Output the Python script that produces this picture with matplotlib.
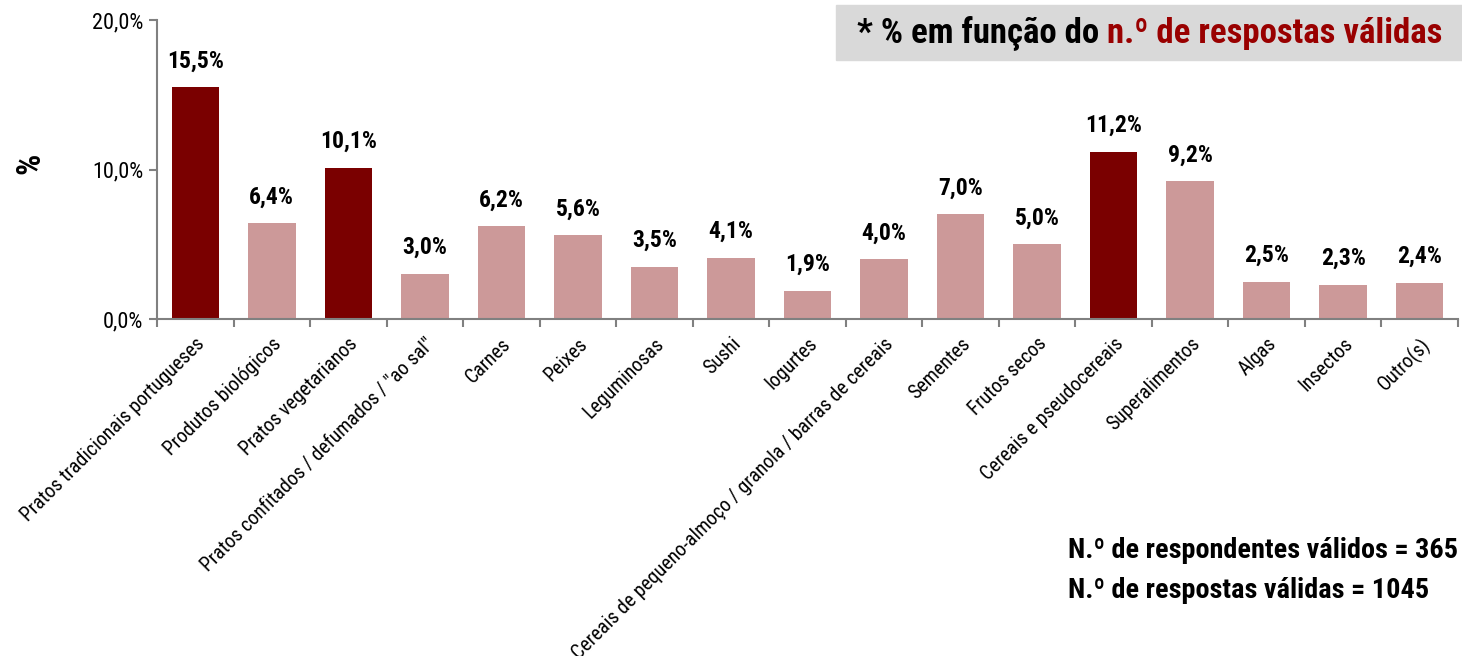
import matplotlib
matplotlib.use("Agg")
import matplotlib.pyplot as plt
import numpy as np

categories = ["Pratos tradicionais portugueses", "Produtos biológicos", "Pratos vegetarianos",
              "Pratos confitados / defumados / \"ao sal\"", "Carnes", "Peixes", "Leguminosas",
              "Sushi", "Iogurtes", "Cereais de pequeno-almoço / granola / barras de cereais",
              "Sementes", "Frutos secos", "Cereais e pseudocereais", "Superalimentos",
              "Algas", "Insectos", "Outro(s)"]
values = [15.5, 6.4, 10.1, 3.0, 6.2, 5.6, 3.5, 4.1, 1.9, 4.0, 7.0, 5.0, 11.2, 9.2, 2.5, 2.3, 2.4]
highlight = [True, False, True, False, False, False, False, False, False, False, False, False, True, False, False, False, False]
yticks = [0, 10, 20]

plt.rcParams['font.family'] = ["Roboto Condensed", "DejaVu Sans"]

W, H = 1462, 656
fig = plt.figure(figsize=(W/100, H/100), dpi=100)
ax = fig.add_axes([157/W, 1-319/H, (1458-157)/W, (319-20)/H])

x = np.arange(len(categories))
colors = ["#7A0000" if h else "#CC9999" for h in highlight]
ax.bar(x, values, width=0.62, color=colors, zorder=2)
for xi, v in zip(x, values):
    ax.text(xi, v + 1.0, f"{v:.1f}%".replace(".", ","), ha="center", va="bottom",
            fontsize=17, fontweight="bold", color="black")

ax.set_xlim(-0.5, len(categories) - 0.5)
ax.set_ylim(0, 20)
ax.set_yticks(yticks)
ax.set_yticklabels([f"{t:.1f}%".replace(".", ",") for t in yticks], fontsize=16)
ax.set_xticks(np.arange(len(categories) + 1) - 0.5, minor=False)
ax.set_xticklabels([])
ax.set_xticks(x, minor=True)
ax.set_xticklabels(categories, minor=True, rotation=45, ha="right", rotation_mode="anchor", fontsize=14.3)
ax.tick_params(axis="x", which="minor", length=0, pad=11)
ax.tick_params(axis="x", which="major", length=6, color="#808080", width=1.5)
ax.tick_params(axis="y", length=6, color="#808080", width=1.5, pad=4)
for s in ["top", "right"]:
    ax.spines[s].set_visible(False)
for s in ["left", "bottom"]:
    ax.spines[s].set_color("#808080")
    ax.spines[s].set_linewidth(1.5)

fig.text(30/W, 1-163/H, "%", rotation=90, ha="center", va="center", fontsize=24, fontweight="bold")

# box top right
fig.patches.append(plt.Rectangle((836/W, 1-60/H), (W-836)/W, 55/H,
                                 transform=fig.transFigure, color="#D9D9D9", zorder=0))
t1 = fig.text(857/W, 1-33/H, "* % em função do ", fontsize=25, fontweight="bold",
              color="black", ha="left", va="center")
fig.canvas.draw()
bb = t1.get_window_extent()
fig.text(bb.x1/W, 1-33/H, "n.º de respostas válidas", fontsize=25, fontweight="bold",
         color="#990000", ha="left", va="center")

fig.text(1068/W, 1-550/H, "N.º de respondentes válidos = 365", fontsize=20.3, fontweight="bold", ha="left", va="center")
fig.text(1068/W, 1-590/H, "N.º de respostas válidas = 1045", fontsize=20.3, fontweight="bold", ha="left", va="center")

fig.savefig("out.png", dpi=100)
